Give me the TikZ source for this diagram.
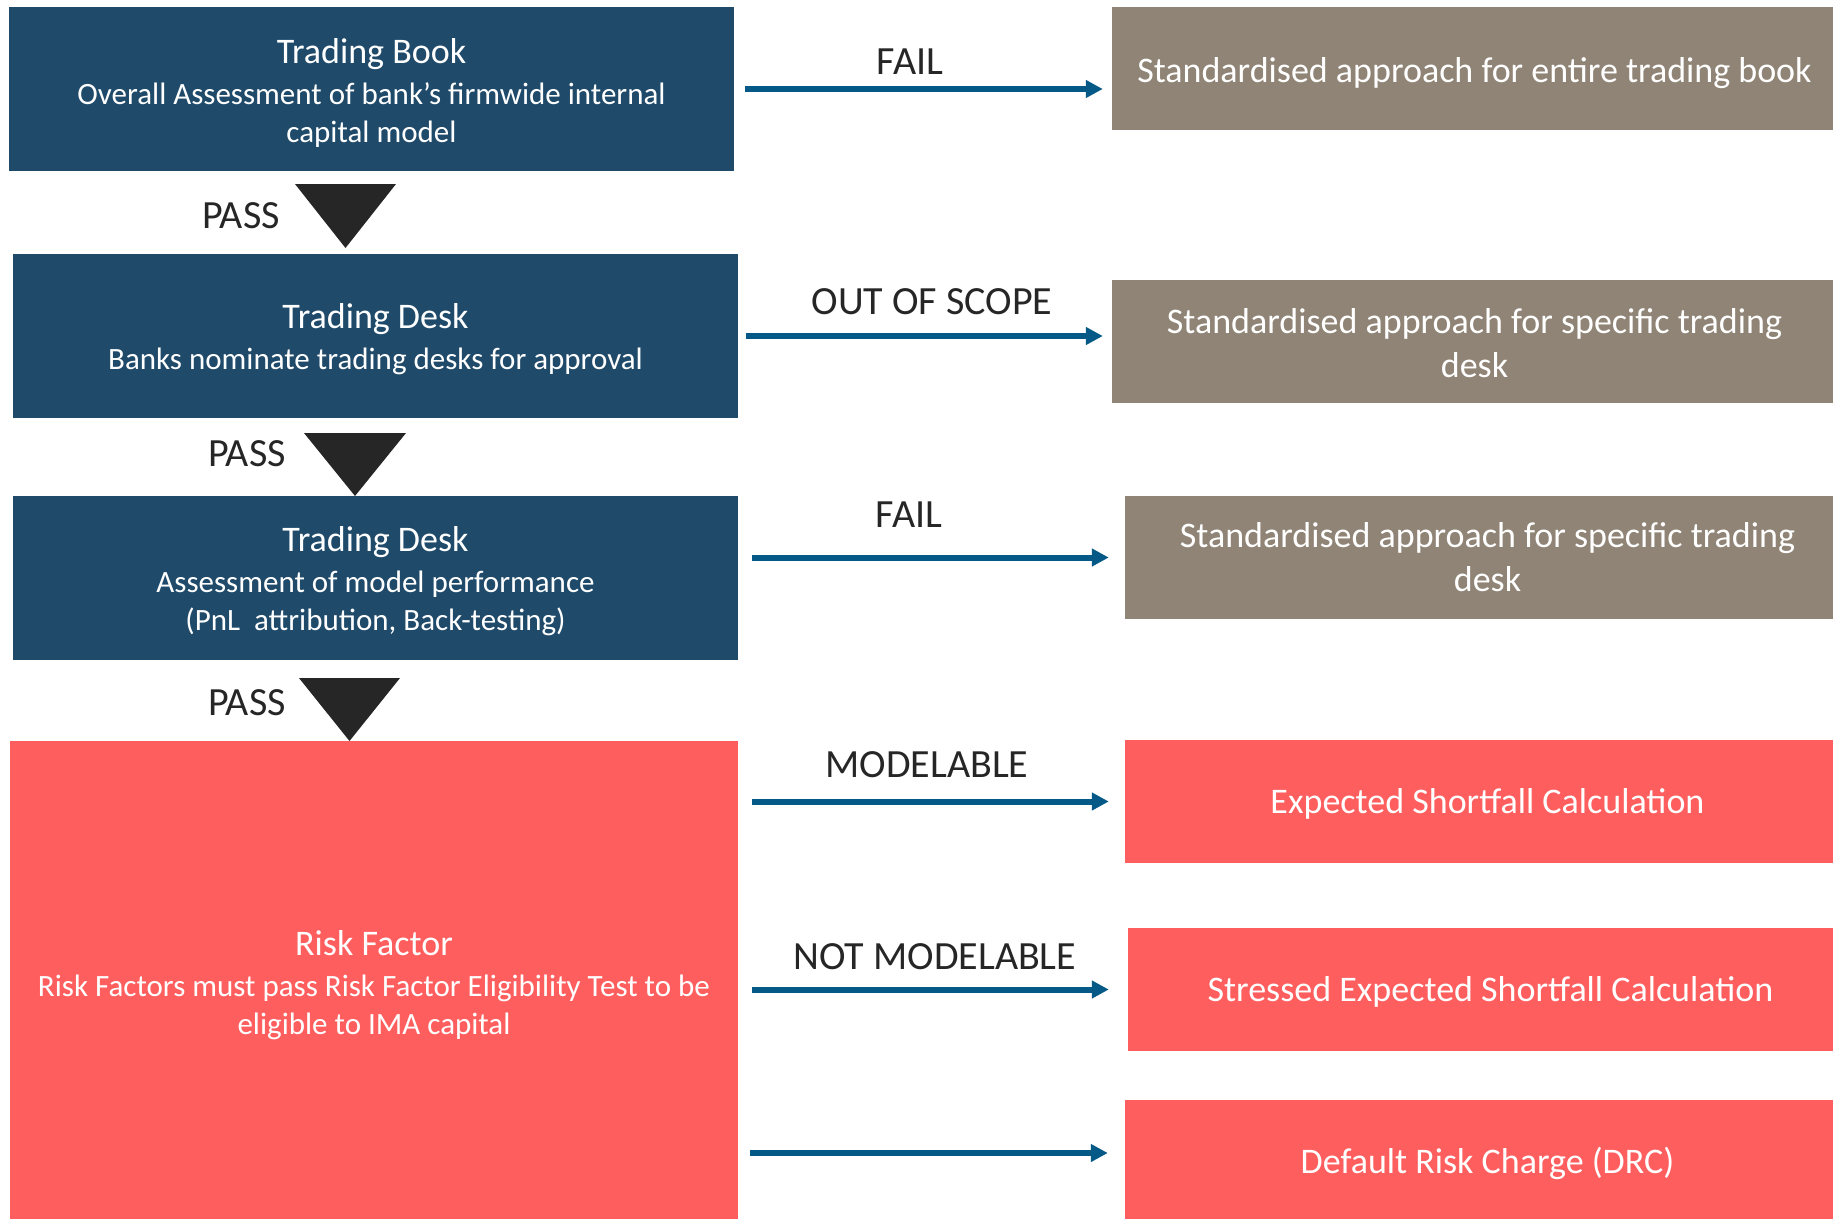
\documentclass[tikz,border=0pt]{standalone}
\usepackage{fontspec}
\setmainfont{Carlito}
\usetikzlibrary{arrows.meta}
\definecolor{navy}{RGB}{31,74,106}
\definecolor{taupe}{RGB}{143,132,117}
\definecolor{coral}{RGB}{255,94,94}
\definecolor{arrowblue}{RGB}{4,89,135}
\definecolor{ink}{RGB}{38,38,38}
\newcommand\boxtitle[1]{{\fontsize{36bp}{38bp}\selectfont #1}\\[3bp]}
\begin{document}
\begin{tikzpicture}[x=1bp,y=-1bp,
  box/.style={rectangle,inner sep=0pt,minimum width=725bp},
  boxtext/.style={inner sep=0pt,align=center,text=white,font=\fontsize{31bp}{38bp}\selectfont},
  bigtext/.style={inner sep=0pt,align=center,text=white,font=\fontsize{36bp}{44bp}\selectfont},
  leftbox/.style={box,fill=navy,minimum height=164bp},
  sabox/.style={box,fill=taupe,minimum height=122.5bp},
  calcbox/.style={box,fill=coral,minimum height=123bp},
  lbl/.style={inner sep=0pt,anchor=base,text=ink,font=\fontsize{40bp}{48bp}\selectfont},
  arr/.style={draw=arrowblue,line width=6bp,-{Triangle[length=17bp,width=17bp]}},
  passtri/.style={fill=ink},
]
\useasboundingbox (0,0) rectangle (1833,1218);
\clip (0,0) rectangle (1833,1218);
\fill[white] (0,0) rectangle (1833,1218);

% left column
\node[leftbox,label={[boxtext,name=b1t,yshift=-4bp]center:{\boxtitle{Trading Book}Overall Assessment of bank’s firmwide internal\\capital model}}] (b1) at (371.5,89) {};
\node[leftbox,label={[boxtext,name=b2t,yshift=-3.5bp]center:{\boxtitle{Trading Desk}Banks nominate trading desks for approval}}] (b2) at (375.5,336) {};
\node[leftbox,label={[boxtext,name=b3t,yshift=-3.5bp]center:{\boxtitle{Trading Desk}Assessment of model performance\\(PnL\ \ attribution, Back-testing)}}] (b3) at (375.5,578) {};
\node[box,fill=coral,minimum width=728bp,minimum height=482bp,label={[boxtext,name=b4t,yshift=-3.5bp]center:{\boxtitle{Risk Factor}Risk Factors must pass Risk Factor Eligibility Test to be\\eligible to IMA capital}}] (b4) at (374,982) {};

% right column
\node[sabox,label={[bigtext,name=r1t,yshift=-4.5bp]center:{Standardised approach for entire trading book}}] (r1) at (1474.5,68.25) {};
\node[sabox,label={[bigtext,name=r2t,yshift=-1.5bp]center:{Standardised approach for specific trading\\desk}}] (r2) at (1474.5,341.5) {};
\node[sabox,label={[bigtext,name=r3t]center:{Standardised approach for specific trading\\desk}}] (r3) at (1487.5,557.5) {};
\node[calcbox,label={[bigtext,name=r4t,yshift=-2bp]center:{Expected Shortfall Calculation}}] (r4) at (1487.5,801.5) {};
\node[calcbox,label={[bigtext,name=r5t,yshift=-2bp]center:{Stressed Expected Shortfall Calculation}}] (r5) at (1490.5,989.5) {};
\node[calcbox,label={[bigtext,name=r6t,yshift=-2bp]center:{Default Risk Charge (DRC)}}] (r6) at (1487.5,1161.5) {};

% pass triangles
\fill[passtri] (295,184) -- (396,184) -- (345.5,248) -- cycle;
\fill[passtri] (304,433) -- (406,433) -- (355,496) -- cycle;
\fill[passtri] (299,678) -- (400,678) -- (349.5,741) -- cycle;
\node[lbl] (p1) at (241,228) {PASS};
\node[lbl] (p2) at (247,466) {PASS};
\node[lbl] (p3) at (247,715) {PASS};

% arrow labels
\node[lbl] (l1) at (910,74) {FAIL};
\node[lbl] (l2) at (932,314) {OUT OF SCOPE};
\node[lbl] (l3) at (909,527) {FAIL};
\node[lbl] (l4) at (927,777) {MODELABLE};
\node[lbl] (l5) at (935,969) {NOT MODELABLE};

% arrows
\draw[arr] ([xshift=11bp]b1.east) -- ([xshift=-9bp]b1.east -| r1.west);
\draw[arr] ([xshift=8bp]b2.east) -- ([xshift=-9bp]b2.east -| r2.west);
\draw[arr] ([xshift=14bp]b3.east |- r3.west) -- ([xshift=-16bp]r3.west);
\draw[arr] ([xshift=14bp]b4.east |- r4.west) -- ([xshift=-16bp]r4.west);
\draw[arr] ([xshift=14bp]b4.east |- r5.west) -- ([xshift=-19bp]r5.west);
\draw[arr] ([shift={(12,-8.5)}]b4.east |- r6.west) -- ([shift={(-17,-8.5)}]r6.west);
\end{tikzpicture}
\end{document}
